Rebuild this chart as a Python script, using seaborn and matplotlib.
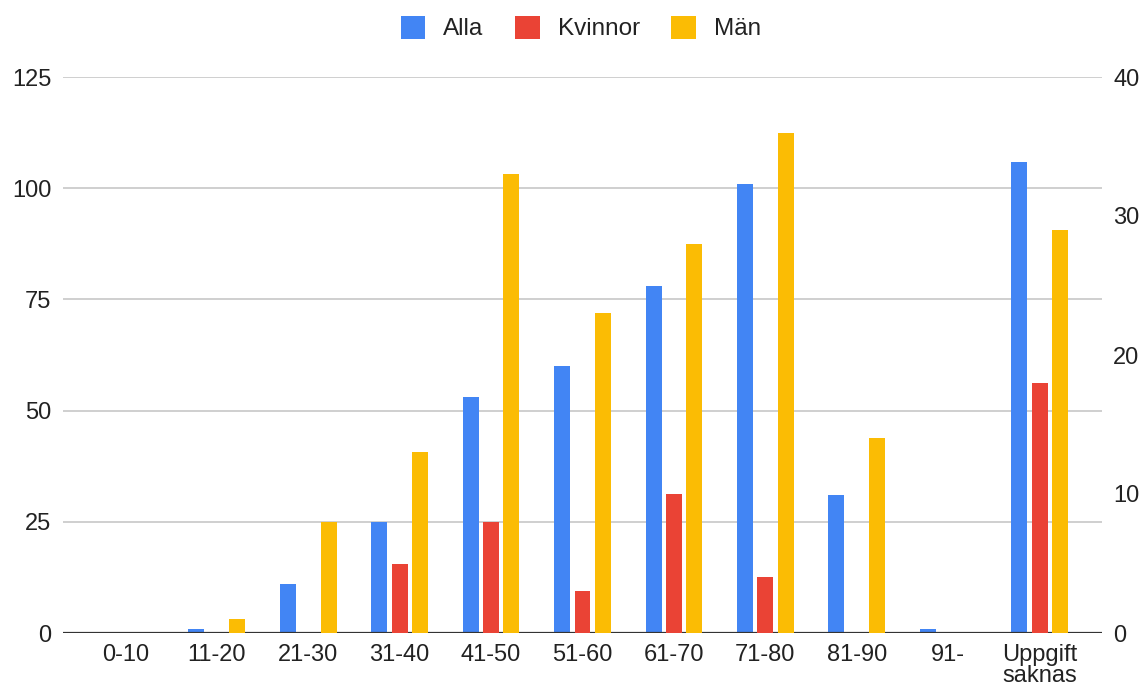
import matplotlib
matplotlib.use("Agg")
import matplotlib.pyplot as plt
import seaborn as sns
import pandas as pd
from matplotlib.patches import Patch

categories = ["0-10", "11-20", "21-30", "31-40", "41-50", "51-60", "61-70",
              "71-80", "81-90", "91-", "Uppgift\nsaknas"]
alla = [0, 1, 11, 25, 53, 60, 78, 101, 31, 1, 106]
kvinnor = [0, 0, 0, 5, 8, 3, 10, 4, 0, 0, 18]
man = [0, 1, 8, 13, 33, 23, 28, 36, 14, 0, 29]

left_ticks = [0, 25, 50, 75, 100, 125]
right_ticks = [0, 10, 20, 30, 40]

series_order = ["Alla", "Kvinnor", "Män"]
colors = {"Alla": "#4285F4", "Kvinnor": "#EA4335", "Män": "#FBBC04"}

df_left = pd.DataFrame({"Ålder": categories, "Antal": alla, "Serie": "Alla"})
df_right = pd.concat([
    pd.DataFrame({"Ålder": categories, "Antal": kvinnor, "Serie": "Kvinnor"}),
    pd.DataFrame({"Ålder": categories, "Antal": man, "Serie": "Män"}),
], ignore_index=True)

sns.set_theme(style="white")
plt.rcParams["font.family"] = ["Liberation Sans", "DejaVu Sans"]
text_color = "#222222"

fig = plt.figure(figsize=(11.42, 6.89), dpi=100)
ax = fig.add_axes([63 / 1142, 1 - 633 / 689, (1102 - 63) / 1142, (633 - 77) / 689])
ax2 = ax.twinx()

common = dict(x="Ålder", y="Antal", hue="Serie", hue_order=series_order,
              order=categories, palette=colors, width=0.67, gap=0.22,
              dodge=True, saturation=1, legend=False, errorbar=None)
sns.barplot(data=df_left, ax=ax, **common)
sns.barplot(data=df_right, ax=ax2, **common)

for a in (ax, ax2):
    for p in a.patches:
        p.set_linewidth(0)
    a.set_xlim(-0.68, 10.68)
    for s in a.spines.values():
        s.set_visible(False)
    a.set_xlabel("")
    a.set_ylabel("")
    a.tick_params(axis="both", length=0, labelsize=17, colors=text_color)

ax.set_ylim(0, 125)
ax.set_yticks(left_ticks)
ax2.set_ylim(0, 40)
ax2.set_yticks(right_ticks)
ax.yaxis.grid(True, color="#cccccc", linewidth=1.3)
ax.set_axisbelow(True)
ax2.grid(False)
ax.axhline(0, color="#333333", linewidth=1.6, zorder=5)
ax.tick_params(axis="y", pad=8.5)
ax2.tick_params(axis="y", pad=8)
ax.tick_params(axis="x", pad=8)
ax.set_xticks(range(len(categories)))
ax.set_xticklabels(categories, linespacing=0.95, va="top")

handles = [Patch(facecolor=colors[s], edgecolor="none", label=s) for s in series_order]
fig.legend(handles=handles, loc="center", bbox_to_anchor=(0.5 + 10 / 1142, 1 - 28 / 689),
           ncol=3, frameon=False, fontsize=17.5, handlelength=1.0, handleheight=1.1,
           handletextpad=0.75, columnspacing=1.3, labelcolor=text_color)

fig.savefig("out.png", dpi=100)
